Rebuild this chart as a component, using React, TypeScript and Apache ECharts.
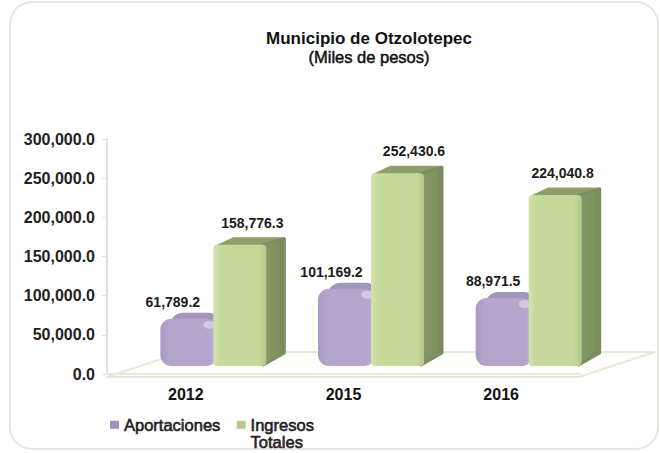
import React, { useEffect, useRef } from "react";
import * as echarts from "echarts";

const categories = ["2012", "2015", "2016"];
const aportaciones = [61789.2, 101169.2, 88971.5];
const ingresos = [158776.3, 252430.6, 224040.8];
const seriesNames = ["Aportaciones", "Ingresos Totales"];

const FONT = '"Liberation Sans", Arial, sans-serif';
const GRID = { left: 107, top: 139, width: 473, height: 235 };
const BAR_W = 53;
const BASE_LIFT = 8;
const BAR_SCALE = 0.975;
const fmt = (v: number) =>
  v.toLocaleString("en-US", { minimumFractionDigits: 1, maximumFractionDigits: 1 });

const H = (a: string, b: string, c: string) => ({
  type: "linear", x: 0, y: 0, x2: 1, y2: 0,
  colorStops: [{ offset: 0, color: a }, { offset: 0.14, color: b }, { offset: 0.85, color: b }, { offset: 1, color: c }],
});

const labelNudgeA = [-13, -12, -8];
const labelNudgeB = [13, 17, 8];

const renderPurple = (params: any, api: any) => {
  const i = api.value(0);
  const v = api.value(1);
  const [cx, y0] = api.coord([i, 0]);
  const h = api.size([0, v])[1] * BAR_SCALE;
  const bottom = y0 - BASE_LIFT;
  const top = bottom - h;
  const x = cx - BAR_W / 2 + 1;
  return {
    type: "group",
    children: [
      { type: "rect", shape: { x: x + 9, y: top - 6, width: BAR_W, height: h - 2, r: 14 }, style: { fill: "#a496ba" } },
      { type: "rect", shape: { x, y: top, width: BAR_W + 4, height: h, r: 11 }, style: { fill: H("#a999c3", "#b4a5cc", "#c0b3d5") } },
      { type: "ellipse", shape: { cx: x + BAR_W - 4, cy: top + 6, rx: 6, ry: 4 }, style: { fill: "#d2c8e2" } },
      {
        type: "text",
        style: {
          x: cx + labelNudgeA[i], y: top - 17, text: fmt(v), align: "center", verticalAlign: "middle",
          fontFamily: FONT, fontWeight: "bold", fontSize: 14, fill: "#1c1c1c",
        },
      },
    ],
  };
};

const renderGreen = (params: any, api: any) => {
  const i = api.value(0);
  const v = api.value(1);
  const [cx, y0] = api.coord([i, 0]);
  const h = api.size([0, v])[1] * BAR_SCALE;
  const bottom = y0 - BASE_LIFT;
  const top = bottom - h;
  const x = cx + BAR_W / 2 + 1;
  const r = x + BAR_W;
  const dx = 19;
  const round = { lineJoin: "round", lineWidth: 3 };
  const side = {
    type: "linear", x: 0, y: 0, x2: 1, y2: 0,
    colorStops: [{ offset: 0, color: "#869869" }, { offset: 0.7, color: "#80925f" }, { offset: 1, color: "#73855a" }],
  };
  return {
    type: "group",
    children: [
      {
        type: "polygon",
        shape: { points: [[x + 3, top + 2], [x + 20, top - 6], [r + dx - 2, top - 6], [r, top + 2]] },
        style: { fill: "#8f9f6c", stroke: "#8f9f6c", ...round },
      },
      {
        type: "polygon",
        shape: { points: [[r - 3, top], [r + dx - 1, top - 6], [r + dx - 1, bottom - 13], [r - 3, bottom - 1]] },
        style: { fill: side, stroke: "#7c8e60", ...round },
      },
      { type: "rect", shape: { x, y: top, width: BAR_W, height: h, r: 4 }, style: { fill: H("#d4e2ae", "#c6d89a", "#b5c98a") } },
      {
        type: "text",
        style: {
          x: cx + BAR_W / 2 + 27 + labelNudgeB[i], y: top - 22, text: fmt(v), align: "center", verticalAlign: "middle",
          fontFamily: FONT, fontWeight: "bold", fontSize: 14, fill: "#1c1c1c",
        },
      },
    ],
  };
};

const swatch = "path://M0 0H9V8H0Z M9 25H9Z";

export default function App() {
  const ref = useRef<HTMLDivElement>(null);
  useEffect(() => {
    const chart = echarts.init(ref.current!, undefined, { renderer: "svg" });
    const gl = GRID.left;
    const gb = GRID.top + GRID.height;
    chart.setOption({
      animation: false,
      backgroundColor: "#ffffff",
      title: [
        {
          text: "Municipio de Otzolotepec",
          left: 369,
          textAlign: "center",
          top: 29,
          textStyle: { fontFamily: FONT, fontWeight: "bold", fontSize: 17, color: "#111", lineHeight: 18 },
          padding: 0,
        },
        {
          text: "(Miles de pesos)",
          left: 369,
          textAlign: "center",
          top: 48,
          textStyle: {
            fontFamily: FONT, fontWeight: "normal", fontSize: 16.5, color: "#111", lineHeight: 18,
            textBorderColor: "#111", textBorderWidth: 0.5,
          },
          padding: 0,
        },
      ],
      grid: { ...GRID, containLabel: false },
      graphic: [
        {
          type: "rect", shape: { x: 10, y: 2, width: 648, height: 447, r: 22 },
          style: { fill: "#fff", stroke: "#e6e6e2", lineWidth: 2 }, silent: true,
        },
        {
          type: "polygon",
          shape: { points: [[gl, gb + 3], [gl + 75, gb - 22], [gl + 548, gb - 22], [gl + 472, gb + 3]] },
          style: { fill: "#fefefb", stroke: "#e6e8da", lineWidth: 2 }, silent: true,
        },
      ],
      legend: {
        data: seriesNames,
        left: 105,
        top: 411,
        itemWidth: 9,
        itemHeight: 25,
        itemGap: 16,
        icon: swatch,
        selectedMode: false,
        formatter: (n: string) => (n.includes(" ") ? n.replace(" ", "\n") : n + "\n "),
        textStyle: { fontFamily: FONT, fontSize: 16.5, color: "#222", lineHeight: 17, textBorderColor: "#222", textBorderWidth: 0.6 },
      },
      xAxis: {
        type: "category",
        data: categories,
        offset: 3,
        axisLine: { lineStyle: { color: "#e6e8da", width: 2 } },
        axisTick: { alignWithLabel: false, length: 5, lineStyle: { color: "#d4d4cc" } },
        axisLabel: { fontFamily: FONT, fontWeight: "bold", fontSize: 16, color: "#111", margin: 9 },
      },
      yAxis: {
        type: "value",
        min: 0,
        max: 300000,
        interval: 50000,
        axisLine: { show: true, lineStyle: { color: "#e0e2da", width: 2 } },
        axisTick: { show: true, length: 5, lineStyle: { color: "#e0e2da" } },
        splitLine: { show: false },
        axisLabel: { fontFamily: FONT, fontWeight: "bold", fontSize: 16, color: "#222", margin: 12, formatter: (v: number) => fmt(v) },
      },
      series: [
        {
          name: seriesNames[0], type: "custom", coordinateSystem: "cartesian2d",
          data: aportaciones.map((v, i) => [i, v]), renderItem: renderPurple,
          encode: { x: 0, y: 1 }, clip: false, itemStyle: { color: "#9d94ba" }, z: 2,
        },
        {
          name: seriesNames[1], type: "custom", coordinateSystem: "cartesian2d",
          data: ingresos.map((v, i) => [i, v]), renderItem: renderGreen,
          encode: { x: 0, y: 1 }, clip: false, itemStyle: { color: "#b7c98a" }, z: 3,
        },
      ],
    });
    return () => chart.dispose();
  }, []);
  return <div ref={ref} style={{ position: "absolute", left: 0, top: 0, width: 660, height: 453 }} />;
}
